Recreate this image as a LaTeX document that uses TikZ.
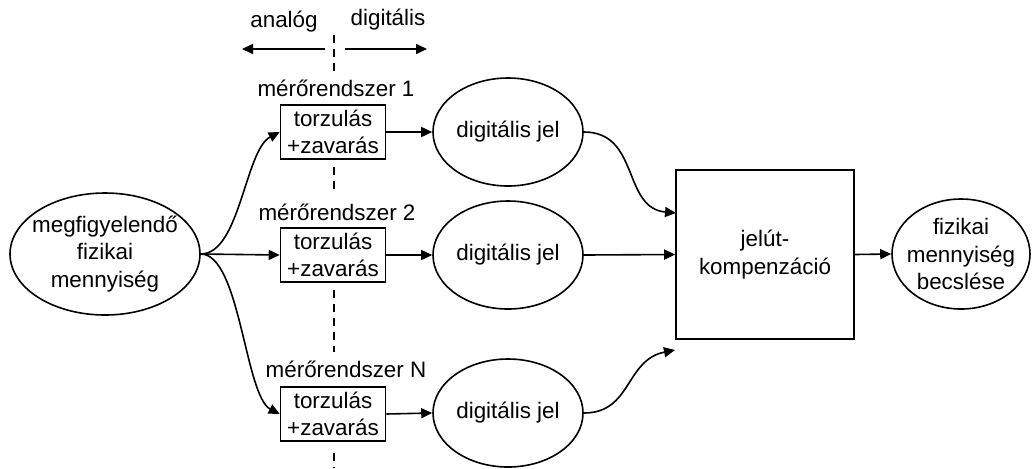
\documentclass[tikz,border=0pt]{standalone}
\usepackage{fontspec}
\setmainfont{Liberation Sans}
\usetikzlibrary{shapes.geometric,arrows.meta}
\begin{document}
\begin{tikzpicture}[x=0.5pt,y=-0.5pt,
  every node/.style={font=\fontsize{11.2pt}{13.75pt}\selectfont, inner sep=0pt, align=center},
  oval/.style={draw, ellipse, line width=0.8pt},
  stage/.style={draw, rectangle, line width=0.8pt, minimum width=52.5pt, minimum height=27pt},
  conn/.style={line width=0.8pt, -{Triangle[length=5.5pt,width=5pt]}},
  divider/.style={line width=0.7pt, dash pattern=on 4pt off 3pt}]
\useasboundingbox (0,0) rectangle (1033,468);

% observed quantity (outline and text set separately so the outline keeps its size)
\node[oval, minimum width=95pt, minimum height=61pt] (src) at (105,254) {};
\node (srcT) at (src.center) {megfigyelendő\\fizikai\\mennyiség};

% measurement chains
\node[stage] (b1) at (333,132) {torzulás\\+zavarás};
\node[stage] (b2) at (333,255) {torzulás\\+zavarás};
\node[stage] (bn) at (333,414) {torzulás\\+zavarás};

\node (l1) at (336,88) {mérőrendszer 1};
\node (l2) at (337,212) {mérőrendszer 2};
\node (ln) at (346,369) {mérőrendszer N};

\node[oval, minimum width=75pt, minimum height=54pt] (d1) at (508,132) {};
\node[oval, minimum width=75pt, minimum height=54pt] (d2) at (508,255) {};
\node[oval, minimum width=75pt, minimum height=54pt] (dn) at (508,413) {};
\node (d1T) at (d1.center) {digitális jel};
\node (d2T) at (d2.center) {digitális jel};
\node (dnT) at (dn.center) {digitális jel};

% compensation and estimate
\node[draw, line width=0.8pt, minimum width=89pt, minimum height=84.5pt] (comp) at (765,254.5)
  {jelút-\\kompenzáció};
\node[oval, minimum width=69pt, minimum height=55pt] (est) at (961,254) {};
\node (estT) at (est.center) {fizikai\\mennyiség\\becslése};

% analog / digital boundary
\node (an) at (284,22) {analóg};
\node (dg) at (388,20) {digitális};
\coordinate (al0) at (325,49);
\coordinate (al1) at (242,49);
\coordinate (dl0) at (345,49);
\coordinate (dl1) at (427,49);
\draw[conn] (al0) -- (al1);
\draw[conn] (dl0) -- (dl1);

\coordinate (v0) at (334,35);  \coordinate (v1) at (334,75);
\coordinate (v2) at (334,167); \coordinate (v3) at (334,191);
\coordinate (v4) at (334,290); \coordinate (v5) at (334,352);
\coordinate (v6) at (334,453); \coordinate (v7) at (334,468);
\draw[divider] (v0) -- (v1);
\draw[divider] (v2) -- (v3);
\draw[divider] (v4) -- (v5);
\draw[divider] (v6) -- (v7);

% connectors
\draw[conn] (src.east) .. controls (240,254) and (245,150) .. (b1.west);
\draw[conn] (src.east) -- (b2.west);
\draw[conn] (src.east) .. controls (240,254) and (245,396) .. (bn.west);

\draw[conn] (b1.east) -- (d1.west);
\draw[conn] (b2.east) -- (d2.west);
\draw[conn] (bn.east) -- (dn.west);

\coordinate (c1) at (676,213);
\coordinate (cn) at (675,350);
\draw[conn] (d1.east) .. controls (640,132) and (622,208) .. (c1);
\draw[conn] (d2.east) -- (comp.west);
\draw[conn] (dn.east) .. controls (632,413) and (625,360) .. (cn);

\draw[conn] (comp.east) -- (est.west);
\end{tikzpicture}
\end{document}
